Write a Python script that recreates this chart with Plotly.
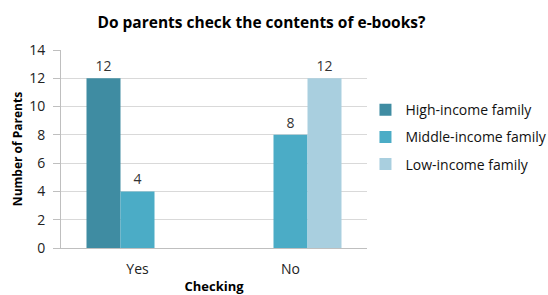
import plotly.graph_objects as go

categories = ["Yes", "No"]
high_income = [12, None]
middle_income = [4, 8]
low_income = [None, 12]
series_names = ["High-income family", "Middle-income family", "Low-income family"]
colors = ["#3F8CA2", "#4BACC6", "#A9CFDF"]

FONT = "Open Sans, Liberation Sans, sans-serif"

fig = go.Figure()
for i, (name, vals) in enumerate(zip(series_names, [high_income, middle_income, low_income])):
    fig.add_trace(go.Bar(
        x=categories, y=vals, name=name,
        marker=dict(color=colors[i], line=dict(width=0)),
        text=[("" if v is None else str(v)) for v in vals],
        textposition="outside",
        textfont=dict(size=14, color="#333333", family=FONT),
        cliponaxis=False,
        legendgroup=f"g{i}",
    ))

fig.update_layout(
    width=548, height=295,
    margin=dict(l=61, r=181, t=50, b=47, autoexpand=False),
    paper_bgcolor="white", plot_bgcolor="white",
    barmode="group", bargap=1/3, bargroupgap=0,
    font=dict(family=FONT, color="#333333"),
    title=dict(text="<b>Do parents check the contents of e-books?</b>",
               x=0.477, xanchor="center", y=0.925, yanchor="middle",
               font=dict(size=15.5, color="#000000", family=FONT)),
    legend=dict(x=0.995, xanchor="left", y=0.56, yanchor="middle",
                font=dict(size=14, color="#111111", family=FONT),
                tracegroupgap=6, itemwidth=30, bgcolor="rgba(0,0,0,0)"),
    showlegend=True,
)
fig.update_xaxes(
    automargin=False,
    showline=True, linecolor="#BFBFBF", linewidth=1,
    tickfont=dict(size=14, color="#222222", family=FONT),
    ticklabelstandoff=8,
    title=dict(text="<b>Checking</b>", font=dict(size=13, color="#000000", family=FONT), standoff=16),
    ticks="",
)
fig.update_yaxes(
    automargin=False,
    range=[0, 14], dtick=2, showgrid=True, gridcolor="#D9D9D9", gridwidth=1,
    showline=True, linecolor="#BFBFBF", linewidth=1,
    ticks="outside", ticklen=7, tickcolor="#BFBFBF",
    ticklabelstandoff=5,
    tickfont=dict(size=14, color="#222222", family=FONT),
    title=dict(text="<b>Number of Parents</b>", font=dict(size=12, color="#000000", family=FONT), standoff=3),
    zeroline=False,
)

fig.write_html("out.html", config={"displayModeBar": False},
               post_script="document.body.style.margin='0';document.body.style.overflow='hidden';")
